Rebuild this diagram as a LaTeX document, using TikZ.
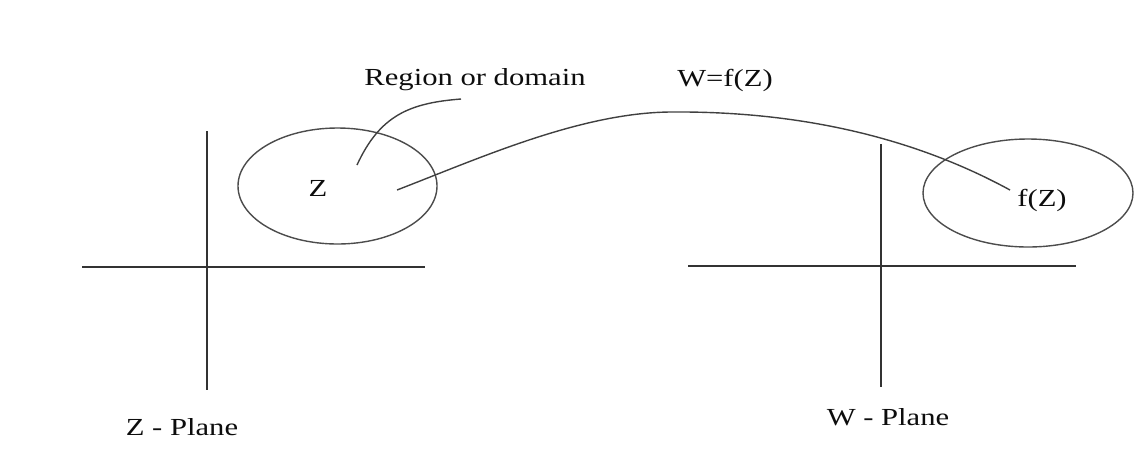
\documentclass[tikz,border=0pt]{standalone}
\usepackage{fontspec}
\setmainfont{Liberation Serif}
\usepackage{graphicx}
\usetikzlibrary{shapes.geometric}
\begin{document}
\begin{tikzpicture}[x=1pt,y=-1pt,
  axis/.style={draw=black!80, line width=1.8pt},
  region/.style={draw=black!70, line width=1.4pt, ellipse, inner sep=0pt},
  link/.style={draw=black!75, line width=1.4pt},
  lbl/.style={inner sep=0pt, text=black!95, font=\fontsize{24.5}{28}\selectfont}]
\useasboundingbox (0,0) rectangle (1134,467);
% Z-plane axes
\coordinate (zx1) at (82,267); \coordinate (zx2) at (425,267);
\coordinate (zy1) at (207,131); \coordinate (zy2) at (207,390);
\draw[axis] (zx1) -- (zx2);
\draw[axis] (zy1) -- (zy2);
% W-plane axes
\coordinate (wx1) at (688,266); \coordinate (wx2) at (1076,266);
\coordinate (wy1) at (881,144); \coordinate (wy2) at (881,387);
\draw[axis] (wx1) -- (wx2);
\draw[axis] (wy1) -- (wy2);
% regions
\node[region, minimum width=199pt, minimum height=116pt] (zreg) at (337.5,186) {};
\node[region, minimum width=210pt, minimum height=108pt] (wreg) at (1028,193) {};
% labels
\node[lbl] (z) at (318,188) {\scalebox{1.25}[1]{Z}};
\node[lbl] (fz) at (1042,200) {\scalebox{1.25}[1]{f(Z)}};
\node[lbl] (rod) at (475,80) {\scalebox{1.25}[1]{Region or domain}};
\node[lbl] (wf) at (725,80) {\scalebox{1.25}[1]{W=f(Z)}};
\node[lbl] (zp) at (182,427) {\scalebox{1.25}[1]{Z - Plane}};
\node[lbl] (wp) at (888,417) {\scalebox{1.25}[1]{W - Plane}};
% connectors
\coordinate (ls) at (357,165); \coordinate (le) at (461,99);
\draw[link] (ls) .. controls (380,115) and (410,103) .. (le);
\coordinate (ms) at (397,190); \coordinate (mp) at (670,112); \coordinate (me) at (1010,190);
\draw[link] (ms) .. controls (480,158) and (580,113) .. (mp)
  .. controls (780,111) and (900,130) .. (me);
\end{tikzpicture}
\end{document}
